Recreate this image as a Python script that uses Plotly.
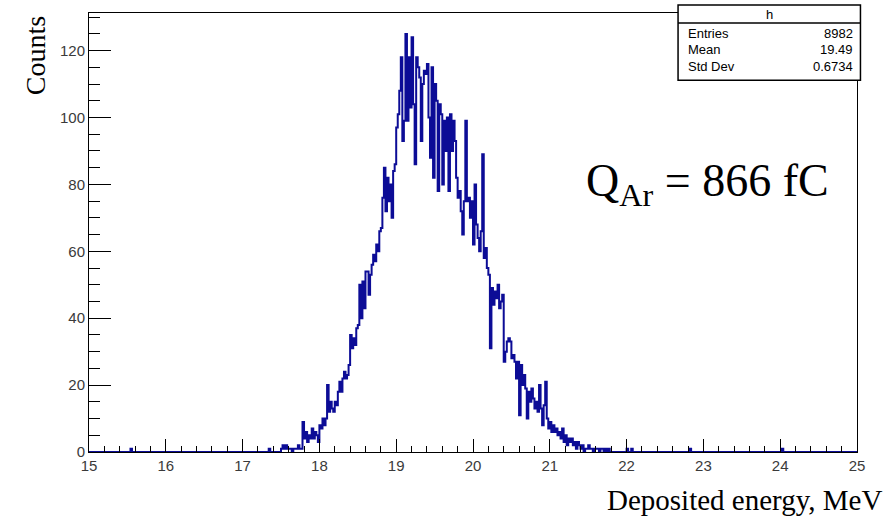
import numpy as np
import plotly.graph_objects as go

# Histogram definition (ROOT TH1 "h"): 500 bins from 15 to 25 MeV
x_lo, x_hi, n_bins = 15.0, 25.0, 500

# left edges of non-empty bins (MeV) and their counts
bin_lo = [15.54, 17.34,
          17.50, 17.52, 17.54, 17.56, 17.58, 17.60, 17.62, 17.66, 17.68, 17.70,
          17.72, 17.74, 17.76, 17.78, 17.80, 17.82, 17.84, 17.86, 17.88, 17.90,
          17.92, 17.94, 17.96, 17.98, 18.00, 18.02, 18.04, 18.06, 18.08, 18.10,
          18.12, 18.14, 18.16, 18.18, 18.20, 18.22, 18.24, 18.26, 18.28, 18.30,
          18.32, 18.34, 18.36, 18.38, 18.40, 18.42, 18.44, 18.46, 18.48, 18.50,
          18.52, 18.54, 18.56, 18.58, 18.60, 18.62, 18.64, 18.66, 18.68, 18.70,
          18.72, 18.74, 18.76, 18.78, 18.80, 18.82, 18.84, 18.86, 18.88, 18.90,
          18.92, 18.94, 18.96, 18.98, 19.00, 19.02, 19.04, 19.06, 19.08, 19.10,
          19.12, 19.14, 19.16, 19.18, 19.20, 19.22, 19.24, 19.26, 19.28, 19.30,
          19.32, 19.34, 19.36, 19.38, 19.40, 19.42, 19.44, 19.46, 19.48, 19.50,
          19.52, 19.54, 19.56, 19.58, 19.60, 19.62, 19.64, 19.66, 19.68, 19.70,
          19.72, 19.74, 19.76, 19.78, 19.80, 19.82, 19.84, 19.86, 19.88, 19.90,
          19.92, 19.94, 19.96, 19.98, 20.00, 20.02, 20.04, 20.06, 20.08, 20.10,
          20.12, 20.14, 20.16, 20.18, 20.20, 20.22, 20.24, 20.26, 20.28, 20.30,
          20.32, 20.34, 20.36, 20.38, 20.40, 20.42, 20.44, 20.46, 20.48, 20.50,
          20.52, 20.54, 20.56, 20.58, 20.60, 20.62, 20.64, 20.66, 20.68, 20.70,
          20.72, 20.74, 20.76, 20.78, 20.80, 20.82, 20.84, 20.86, 20.88, 20.90,
          20.92, 20.94, 20.96, 20.98, 21.00, 21.02, 21.04, 21.06, 21.08, 21.10,
          21.12, 21.14, 21.16, 21.18, 21.20, 21.22, 21.24, 21.26, 21.28, 21.30,
          21.32, 21.34, 21.36, 21.38, 21.40, 21.42, 21.46, 21.48, 21.50, 21.52,
          21.54, 21.58, 21.60, 21.62, 21.66, 21.68, 21.72, 21.76,
          22.00, 22.06, 22.82, 24.02]
bin_counts = [1, 1,
              1, 2, 1, 2, 1, 1, 1, 1, 1, 1,
              2, 1, 1, 9, 4, 6, 3, 5, 4, 7,
              4, 6, 5, 3, 8, 7, 10, 8, 10, 20,
              12, 15, 13, 12, 15, 14, 18, 21, 18, 22,
              24, 22, 23, 26, 35, 31, 34, 32, 37, 38,
              50, 40, 51, 43, 54, 54, 47, 53, 56, 59,
              57, 62, 60, 66, 67, 76, 85, 72, 82, 75,
              80, 70, 84, 86, 97, 101, 108, 118, 93, 99,
              125, 99, 118, 103, 124, 104, 86, 118, 115, 112,
              93, 110, 114, 113, 116, 100, 88, 115, 82, 110,
              105, 78, 104, 101, 80, 99, 90, 100, 78, 101,
              90, 99, 93, 82, 76, 78, 72, 65, 75, 99,
              75, 76, 70, 75, 62, 80, 68, 64, 60, 66,
              89, 58, 61, 55, 53, 31, 49, 44, 48, 46,
              50, 43, 45, 47, 27, 30, 33, 34, 33, 28,
              29, 27, 22, 27, 11, 26, 20, 23, 19, 10,
              18, 15, 19, 16, 13, 15, 12, 20, 13, 8,
              14, 21, 10, 7, 9, 6, 8, 6, 7, 5,
              6, 4, 7, 3, 5, 2, 4, 3, 4, 2,
              3, 1, 3, 2, 1, 2, 1, 1, 2, 1,
              1, 1, 1, 1, 1, 1, 1, 1,
              1, 1, 1, 1]

stats_title = "h"
stats_labels = ["Entries", "Mean", "Std Dev"]
stats_values = ["8982", "19.49", "0.6734"]

x_ticks = list(range(15, 26))
y_ticks = [0, 20, 40, 60, 80, 100, 120]

# ---- build the full histogram from the listed bins ----
width = (x_hi - x_lo) / n_bins
edges = x_lo + width * np.arange(n_bins + 1)
counts = np.zeros(n_bins)
for lo, c in zip(bin_lo, bin_counts):
    counts[int(round((lo - x_lo) / width))] = c
y_max = 1.05 * counts.max()

step_x = edges
step_y = np.append(counts, counts[-1])

fig = go.Figure()
fig.add_trace(go.Scatter(
    x=step_x, y=step_y, mode="lines", line_shape="hv",
    line=dict(color="#0c0c96", width=2), hoverinfo="skip", showlegend=False))

tick_font = dict(family="Liberation Sans, Arial, sans-serif", size=15, color="#3a3a3a")
serif = "Liberation Serif, Times New Roman, serif"

fig.update_layout(
    width=895, height=517,
    margin=dict(l=89, r=38, t=13, b=65),
    paper_bgcolor="white", plot_bgcolor="white",
    showlegend=False,
    xaxis=dict(range=[x_lo, x_hi], tickvals=x_ticks, ticktext=[str(v) for v in x_ticks],
               ticks="inside", ticklen=13, tickwidth=1, tickcolor="black",
               minor=dict(dtick=0.2, ticks="inside", ticklen=6, tickwidth=1, tickcolor="black"),
               showline=True, linecolor="black", linewidth=1, mirror=True,
               showgrid=False, zeroline=False, tickfont=tick_font),
    yaxis=dict(range=[0, y_max], tickvals=y_ticks, ticktext=[str(v) for v in y_ticks],
               ticks="inside", ticklen=22, tickwidth=1, tickcolor="black",
               minor=dict(dtick=5, ticks="inside", ticklen=11, tickwidth=1, tickcolor="black"),
               showline=True, linecolor="black", linewidth=1, mirror=True,
               showgrid=False, zeroline=False, tickfont=tick_font),
)

# ---- axis titles ----
fig.add_annotation(text="Counts", xref="paper", yref="paper", x=-0.07, y=0.902,
                   textangle=-90, showarrow=False, xanchor="center", yanchor="middle",
                   font=dict(family=serif, size=28, color="black"))
fig.add_annotation(text="Deposited energy, MeV", xref="paper", yref="paper", x=1.035, y=-0.109,
                   showarrow=False, xanchor="right", yanchor="middle",
                   font=dict(family=serif, size=29, color="black"))

# ---- Q label ----
fig.add_annotation(text="Q<sub>Ar</sub> = 866 fC", xref="paper", yref="paper", x=0.644, y=0.61,
                   showarrow=False, xanchor="left", yanchor="middle",
                   font=dict(family=serif, size=46, color="black"))

# ---- stats box ----
bx0, bx1, by0, by1 = 0.767, 1.0045, 0.847, 1.018
sep = 0.977
fig.add_shape(type="rect", xref="paper", yref="paper", x0=bx0, x1=bx1, y0=by0, y1=by1,
              line=dict(color="black", width=1.5), fillcolor="white", layer="above")
fig.add_shape(type="line", xref="paper", yref="paper", x0=bx0, x1=bx1, y0=sep, y1=sep,
              line=dict(color="black", width=1.5), layer="above")
stat_font = dict(family="Liberation Sans, Arial, sans-serif", size=13, color="black")
fig.add_annotation(text=stats_title, xref="paper", yref="paper", x=(bx0 + bx1) / 2,
                   y=(sep + by1) / 2, showarrow=False, xanchor="center", yanchor="middle",
                   font=stat_font)
row_y = [0.954, 0.916, 0.877]
for lab, val, yy in zip(stats_labels, stats_values, row_y):
    fig.add_annotation(text=lab, xref="paper", yref="paper", x=0.777, y=yy, showarrow=False,
                       xanchor="left", yanchor="middle", font=stat_font)
    fig.add_annotation(text=val, xref="paper", yref="paper", x=0.998, y=yy, showarrow=False,
                       xanchor="right", yanchor="middle", font=stat_font)

fig.write_html("out.html")
